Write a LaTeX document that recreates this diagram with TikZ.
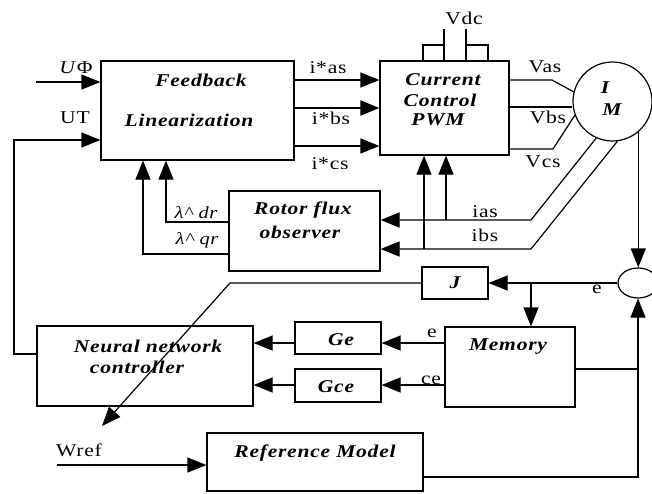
\documentclass[tikz,border=0pt]{standalone}
\usepackage{fontspec}
\setmainfont{Liberation Serif}[FakeStretch=1.2,LetterSpace=4]
\usetikzlibrary{arrows.meta,shapes.geometric}

\begin{document}
\begin{tikzpicture}[x=1pt,y=-1pt,
  wire/.style={line width=1.2pt,draw=black},
  arr/.style={wire,-{Triangle[length=19pt,width=15pt]}},
  blk/.style={draw=black,line width=1.2pt,rectangle,inner sep=0pt,fill=white},
  lbl/.style={font=\fontsize{18}{20}\selectfont\bfseries\itshape,inner sep=0pt},
  sig/.style={font=\fontsize{18}{20}\selectfont,inner sep=0pt},
  flx/.style={font=\fontsize{17}{19}\selectfont\itshape,inner sep=0pt}]
\useasboundingbox (0,0) rectangle (652,493);
\fill[white] (0,0) rectangle (652,493);

% blocks
\node[blk,minimum width=193pt,minimum height=99pt] (fl)  at (197.5,110.5) {};
\node[blk,minimum width=129pt,minimum height=94pt] (pwm) at (444.5,108) {};
\node[blk,minimum width=151pt,minimum height=80pt] (rfo) at (304.5,231) {};
\node[blk,minimum width=66pt,minimum height=32pt]  (jb)  at (455,283) {};
\node[blk,minimum width=130pt,minimum height=80pt] (mem) at (510,367) {};
\node[blk,minimum width=86pt,minimum height=32pt]  (ge)  at (338,338) {};
\node[blk,minimum width=86pt,minimum height=33pt]  (gce) at (338,385.5) {};
\node[blk,minimum width=216pt,minimum height=80pt] (nn)  at (145,366) {};
\node[blk,minimum width=216pt,minimum height=58pt] (rm)  at (315,462) {};
\node[draw=black,line width=1.2pt,circle,minimum size=79pt,inner sep=0pt] (im) at (612.5,101.5) {};
\node[draw=black,line width=1.2pt,ellipse,minimum width=40pt,minimum height=30pt,inner sep=0pt] (sj) at (638,283) {};

% block texts
\node[lbl] (t-fb)  at (201,80)  {Feedback};
\node[lbl] (t-lin) at (189,120) {Linearization};
\node[lbl] (t-cur) at (443,80)  {Current};
\node[lbl] (t-con) at (440,100) {Control};
\node[lbl] (t-pwm) at (438,120) {PWM};
\node[lbl] (t-i)   at (605,88)  {I};
\node[lbl] (t-m)   at (612,110) {M};
\node[lbl] (t-rf)  at (303,210) {Rotor flux};
\node[lbl] (t-obs) at (300,232) {observer};
\node[lbl] (t-j)   at (455,283) {J};
\node[lbl] (t-mem) at (508,347) {Memory};
\node[lbl] (t-ge)  at (341,340) {Ge};
\node[lbl] (t-gce) at (336,387) {Gce};
\node[lbl] (t-nn)  at (148,346) {Neural network};
\node[lbl] (t-ctl) at (137,367) {controller};
\node[lbl] (t-rm)  at (315,453) {Reference Model};

% signal labels
\node[sig] (l-uphi) at (76,68)   {\textit{U}Φ};
\node[sig] (l-ut)   at (75,118)  {UT};
\node[sig] (l-wref) at (79,450)  {Wref};
\node[sig] (l-ias*) at (328,68)  {i*as};
\node[sig] (l-ibs*) at (331,118) {i*bs};
\node[sig] (l-ics*) at (330,164) {i*cs};
\node[sig] (l-vdc)  at (464,18)  {Vdc};
\node[sig] (l-vas)  at (545,67)  {Vas};
\node[sig] (l-vbs)  at (548,117) {Vbs};
\node[sig] (l-vcs)  at (543,162) {Vcs};
\node[sig] (l-ias)  at (485,212) {ias};
\node[sig] (l-ibs)  at (485,235) {ibs};
\node[flx] (l-ldr)  at (196,213) {λ\^{} dr};
\node[flx] (l-lqr)  at (197,240) {λ\^{} qr};
\node[sig] (l-e1)   at (597,289) {e};
\node[sig] (l-e2)   at (432,333) {e};
\node[sig] (l-ce)   at (431,380) {ce};

% helper points
\coordinate (uphi-in) at (36,82);
\coordinate (ut) at (14,140);
\coordinate (wref-in) at (57,465);
\coordinate (vdc1) at (444,29);
\coordinate (vdc2) at (466,29);
\coordinate (vaskink) at (552,80);
\coordinate (vcskink) at (553,149);
\coordinate (iaskink) at (531,220);
\coordinate (ibskink) at (531,249);
\coordinate (tapA) at (446,220);
\coordinate (tapB) at (424,249);
\coordinate (etap) at (531,283);
\coordinate (jbend) at (230,283);
\coordinate (jtip) at (102,426);

% inputs to the linearization block
\draw[arr] (uphi-in) -- (uphi-in -| fl.west);
\draw[arr] (nn.west |- 0,354) -| (ut) -- (ut -| fl.west);

% current references
\draw[arr] (fl.east |- 0,80)  -- (pwm.west |- 0,80);
\draw[arr] (fl.east |- 0,108) -- (pwm.west |- 0,108);
\draw[arr] (fl.east |- 0,146) -- (pwm.west |- 0,146);

% DC link
\draw[wire] (vdc1) -- (vdc1 |- pwm.north);
\draw[wire] (vdc2) -- (vdc2 |- pwm.north);
\draw[wire] (pwm.north -| 423,0) |- (vdc1 |- 0,45);
\draw[wire] (pwm.north -| 488,0) |- (vdc2 |- 0,45);

% inverter voltages to the motor
\draw[wire] (pwm.east |- vaskink) -- (vaskink) -- (im.166);
\draw[wire] (pwm.east |- 0,107) -- (im.west |- 0,107);
\draw[wire] (pwm.east |- vcskink) -- (vcskink) -- (im.200);

% measured currents
\draw[arr] (im.246) -- (iaskink) -- (iaskink -| rfo.east);
\draw[arr] (im.277) -- (ibskink) -- (ibskink -| rfo.east);
\draw[arr] (tapA) -- (tapA |- pwm.south);
\draw[arr] (tapB) -- (tapB |- pwm.south);

% estimated fluxes
\draw[arr] (rfo.west |- 0,222) -| (fl.south -| 166,0);
\draw[arr] (rfo.west |- 0,254) -| (fl.south -| 143,0);

% speed error loop
\draw[arr] (im.310) -- (im.310 |- sj.north);
\draw[arr] (sj.west) -- (jb.east);
\draw[arr] (etap) -- (etap |- mem.north);
\draw[arr] (jb.west) -- (jbend) -- (jtip);
\draw[arr] (mem.west |- 0,343) -- (ge.east |- 0,343);
\draw[arr] (mem.west |- 0,385) -- (gce.east |- 0,385);
\draw[arr] (ge.west |- 0,343) -- (nn.east |- 0,343);
\draw[arr] (gce.west |- 0,385) -- (nn.east |- 0,385);
\draw[wire] (mem.east |- 0,369) -- (sj.south |- 0,369);
\draw[arr] (rm.east |- 0,477) -| (sj.south);
\draw[arr] (wref-in) -- (wref-in -| rm.west);
\end{tikzpicture}
\end{document}
